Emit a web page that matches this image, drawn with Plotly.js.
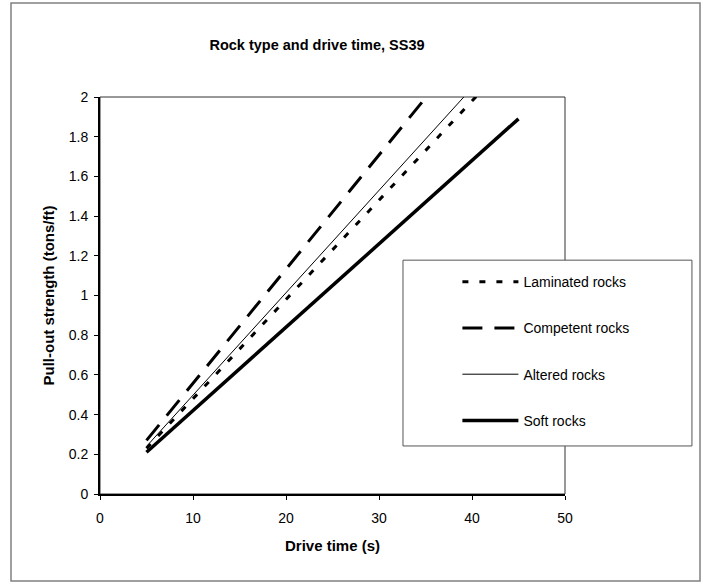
<!DOCTYPE html>
<html>
<head>
<meta charset="utf-8">
<script src="https://cdn.plot.ly/plotly-3.0.1.min.js"></script>
<style>
  html, body { margin: 0; padding: 0; background: #ffffff; }
  #chart { width: 709px; height: 584px; }
</style>
</head>
<body>
<div id="chart"></div>
<script>
// ---- Data ----
const seriesNames = ["Laminated rocks", "Competent rocks", "Altered rocks", "Soft rocks"];
const laminatedX = [5, 41];
const laminatedY = [0.23, 2.03];
const competentX = [5, 35.6];
const competentY = [0.27, 2.03];
const alteredX = [5, 39.7];
const alteredY = [0.24, 2.03];
const softX = [5, 45];
const softY = [0.21, 1.89];
const xTickValues = [0, 10, 20, 30, 40, 50];
const yTickValues = [0, 0.2, 0.4, 0.6, 0.8, 1, 1.2, 1.4, 1.6, 1.8, 2];

const FONT = "Liberation Sans, Arial, sans-serif";

const traces = [
  {x: laminatedX, y: laminatedY, name: seriesNames[0], mode: "lines", legendgroup: "a",
   line: {color: "#000000", width: 3, dash: "6px,11px"}},
  {x: competentX, y: competentY, name: seriesNames[1], mode: "lines", legendgroup: "b",
   line: {color: "#000000", width: 3, dash: "20px,12px"}},
  {x: alteredX, y: alteredY, name: seriesNames[2], mode: "lines", legendgroup: "c",
   line: {color: "#000000", width: 1}},
  {x: softX, y: softY, name: seriesNames[3], mode: "lines", legendgroup: "d",
   line: {color: "#000000", width: 3.5}}
];

const layout = {
  width: 709, height: 584,
  margin: {l: 100, r: 144, t: 97, b: 90},
  paper_bgcolor: "#ffffff", plot_bgcolor: "#ffffff",
  font: {family: FONT, size: 14, color: "#000000"},
  title: {text: "<b>Rock type and drive time, SS39</b>", font: {family: FONT, size: 14.5, color: "#000000"},
          x: 317 / 709, xanchor: "center", xref: "container", y: 1 - 45 / 584, yanchor: "middle", yref: "container"},
  xaxis: {
    range: [0, 50], tickvals: xTickValues, ticks: "outside", ticklen: 4, tickcolor: "#000", tickwidth: 1,
    showline: true, linecolor: "#000", linewidth: 2, showgrid: false, zeroline: false,
    tickfont: {family: FONT, size: 14}, ticklabelstandoff: 6,
    title: {text: "<b>Drive time (s)</b>", font: {family: FONT, size: 15}, standoff: 16}
  },
  xaxis2: {
    overlaying: "x", matches: "x", side: "bottom", anchor: "y",
    range: [0, 50], tickvals: xTickValues, ticks: "inside", ticklen: 4, tickcolor: "#000", tickwidth: 1,
    showticklabels: false, showline: false, showgrid: false, zeroline: false
  },
  yaxis: {
    range: [0, 2], tickvals: yTickValues, ticks: "outside", ticklen: 4, tickcolor: "#000", tickwidth: 1,
    showline: true, linecolor: "#000", linewidth: 2, showgrid: false, zeroline: false,
    tickfont: {family: FONT, size: 14}, ticklabelstandoff: 3,
    title: {text: "<b>Pull-out strength (tons/ft)</b>", font: {family: FONT, size: 15}, standoff: 10}
  },
  yaxis2: {
    overlaying: "y", matches: "y", side: "left", anchor: "x",
    range: [0, 2], tickvals: yTickValues, ticks: "inside", ticklen: 4, tickcolor: "#000", tickwidth: 1,
    showticklabels: false, showline: false, showgrid: false, zeroline: false
  },
  showlegend: true,
  legend: {
    x: 0.7686, xanchor: "left", y: 0.5738, yanchor: "top",
    bgcolor: "rgba(0,0,0,0)", borderwidth: 0,
    font: {family: FONT, size: 14, color: "#000"},
    tracegroupgap: 25, itemwidth: 56
  },
  shapes: [
    {type: "rect", xref: "paper", yref: "paper", x0: 0, x1: 1, y0: 0, y1: 1,
     line: {color: "#333333", width: 1}, fillcolor: "rgba(0,0,0,0)", layer: "below"},
    {type: "rect", xref: "paper", yref: "paper", x0: 0.6516, x1: 1.273, y0: 0.121, y1: 0.589,
     line: {color: "#555555", width: 1}, fillcolor: "#ffffff", layer: "above"},
    {type: "rect", xref: "paper", yref: "paper",
     x0: (11 - 100) / 465, x1: (700 - 100) / 465, y0: (494 - 581) / 397, y1: (494 - 3) / 397,
     line: {color: "#808080", width: 1.5}, fillcolor: "rgba(0,0,0,0)", layer: "below"}
  ]
};

Plotly.newPlot("chart", traces, layout, {displayModeBar: false, staticPlot: true});
</script>
</body>
</html>
